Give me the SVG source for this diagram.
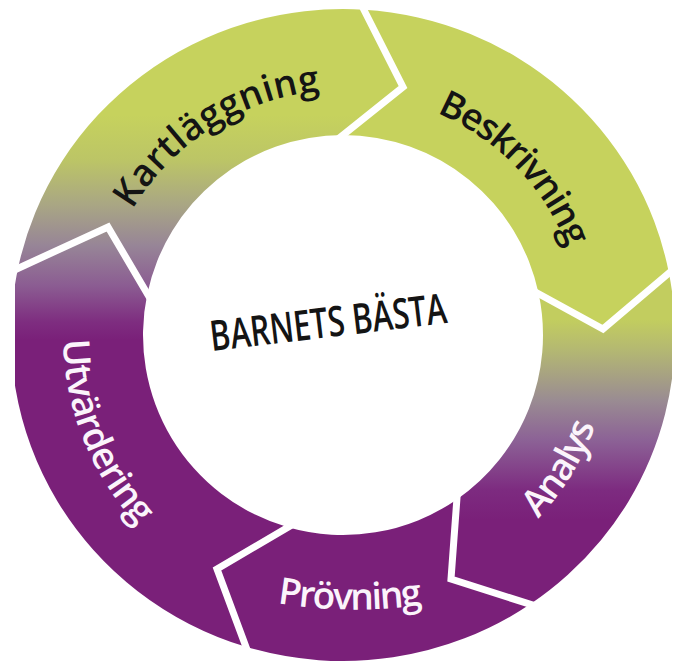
<svg xmlns="http://www.w3.org/2000/svg" width="678" height="664" viewBox="0 0 678 664">
  <style>
    .lbl { font-family: "Open Sans", "Noto Sans", "Liberation Sans", sans-serif; font-size: 37px; font-weight: 600; }
    .dark { fill: #141414; }
    .light { fill: #fbf4fb; }
    .sep { fill: none; stroke: #ffffff; stroke-width: 7; stroke-linejoin: miter; stroke-linecap: butt; }
    .green { fill: #c6d25d; }
    .purple { fill: #7a2079; }
  </style>
  <defs>
    <clipPath id="frame">
      <rect x="15" y="0" width="657" height="664"/>
    </clipPath>
    <linearGradient id="gradL" gradientUnits="userSpaceOnUse" x1="0" y1="115" x2="0" y2="340">
      <stop offset="0" stop-color="#c6d25d"/>
      <stop offset="0.2" stop-color="#bcc566"/>
      <stop offset="0.4" stop-color="#a9a684"/>
      <stop offset="0.58" stop-color="#978597"/>
      <stop offset="0.76" stop-color="#8b5c92"/>
      <stop offset="0.92" stop-color="#7e2d80"/>
      <stop offset="1" stop-color="#7a2079"/>
    </linearGradient>
    <linearGradient id="gradR" gradientUnits="userSpaceOnUse" x1="0" y1="320" x2="0" y2="520">
      <stop offset="0" stop-color="#c2cd5f"/>
      <stop offset="0.15" stop-color="#b4b872"/>
      <stop offset="0.4" stop-color="#9a8c92"/>
      <stop offset="0.6" stop-color="#8c6296"/>
      <stop offset="0.85" stop-color="#7d2b80"/>
      <stop offset="1" stop-color="#7a2079"/>
    </linearGradient>
    <path id="pKart" d="M109.60,260.51 A245,245 0 0 1 375.83,92.21"/>
    <path id="pBesk" d="M367.36,95.23 A241,241 0 0 1 583.35,317.35"/>
    <path id="pAnal" d="M470.88,570.52 A268,268 0 0 0 610.91,342.02"/>
    <path id="pProv" d="M250,598 Q350,620 450,600"/>
    <path id="pUtv" d="M76.70,248.48 A280,280 0 0 0 211.55,582.23"/>
  </defs>

  <g clip-path="url(#frame)">
    <g id="kartlaggning">
      <path fill="url(#gradL)" d="M18.01,268.33 A332,326 0 0 1 363.85,9.64 L403,87 L343,135 A200,200 0 0 0 147.30,293.76 L108,227 Z"/>
      <text class="lbl dark" font-size="39"><textPath href="#pKart" startOffset="50%" text-anchor="middle" textLength="230" lengthAdjust="spacing">Kartläggning</textPath></text>
    </g>
    <g id="beskrivning">
      <path class="green" d="M363.85,9.64 A332,326 0 0 1 668.93,272.96 L603,329 L538.72,293.86 A200,200 0 0 0 343,135 L403,87 Z"/>
      <text class="lbl dark" font-size="38"><textPath href="#pBesk" startOffset="50%" text-anchor="middle" textLength="193" lengthAdjust="spacing">Beskrivning</textPath></text>
    </g>
    <g id="analys">
      <path fill="url(#gradR)" d="M668.93,272.96 A332,326 0 0 1 530.09,604.31 L451,579 L456.86,499.43 A200,200 0 0 0 538.72,293.86 L603,329 Z"/>
      <text class="lbl light"><textPath href="#pAnal" startOffset="50%" text-anchor="middle" textLength="110" lengthAdjust="spacing">Analys</textPath></text>
    </g>
    <g id="provning">
      <path class="purple" d="M530.09,604.31 A332,326 0 0 1 245.93,646.75 L217,569 L287.87,527.25 A200,200 0 0 0 456.86,499.43 L451,579 Z"/>
      <text class="lbl light"><textPath href="#pProv" startOffset="50%" text-anchor="middle" textLength="146" lengthAdjust="spacing">Prövning</textPath></text>
    </g>
    <g id="utvardering">
      <path fill="url(#gradL)" d="M245.93,646.75 A332,326 0 0 1 18.01,268.33 L108,227 L147.30,293.76 A200,200 0 0 0 287.87,527.25 L217,569 Z"/>
      <text class="lbl light"><textPath href="#pUtv" startOffset="50%" text-anchor="middle" textLength="205" lengthAdjust="spacing">Utvärdering</textPath></text>
    </g>
  </g>

  <g id="connectors">
    <polyline class="sep" points="360.2,2.5 403,87 336.8,140"/>
    <polyline class="sep" points="675.0,267.8 603,329 531.7,290.0"/>
    <polyline class="sep" points="537.7,606.7 451,579 457.45,491.5"/>
    <polyline class="sep" points="248.7,654.2 217,569 294.8,523.2"/>
    <polyline class="sep" points="10.7,271.7 108,227 151.4,300.7"/>
  </g>

  <g id="center">
    <text class="dark" x="330" y="337" transform="rotate(-6.8 330 337)" text-anchor="middle" textLength="238" lengthAdjust="spacingAndGlyphs" font-family="'Open Sans', 'Noto Sans', sans-serif" font-size="42" font-weight="600">BARNETS BÄSTA</text>
  </g>
</svg>
